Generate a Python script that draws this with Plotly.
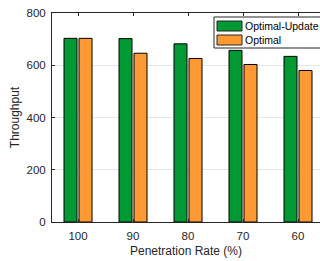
import plotly.graph_objects as go

categories = ["100", "90", "80", "70", "60"]
optimal_update = [703, 702, 682, 657, 634]
optimal = [703, 646, 626, 603, 580]
y_ticks = [0, 200, 400, 600, 800]

green = "#009933"
orange = "#FF9933"
axis_col = "#262626"
font = "Liberation Sans, Arial, sans-serif"

fig = go.Figure()
fig.add_trace(go.Bar(x=categories, y=optimal_update, name="Optimal-Update",
                     marker=dict(color=green, line=dict(color="black", width=1))))
fig.add_trace(go.Bar(x=categories, y=optimal, name="Optimal",
                     marker=dict(color=orange, line=dict(color="black", width=1))))

fig.update_layout(
    width=320, height=261,
    margin=dict(l=52, r=0, t=13, b=39),
    plot_bgcolor="white", paper_bgcolor="white",
    barmode="group", bargap=0.4545, bargroupgap=0.133,
    showlegend=False,
    font=dict(family=font, size=11, color=axis_col),
)
fig.update_xaxes(
    type="category", range=[-0.473, 4.4],
    showline=True, linecolor=axis_col, linewidth=1, mirror="ticks",
    ticks="inside", ticklen=3, tickcolor=axis_col,
    showgrid=False, tickfont=dict(size=11.5), ticklabelstandoff=3,
    title=dict(text="Penetration Rate (%)", font=dict(size=12), standoff=5),
)
fig.update_yaxes(
    range=[0, 800], tickvals=y_ticks,
    showline=True, linecolor=axis_col, linewidth=1,
    ticks="inside", ticklen=3, tickcolor=axis_col,
    showgrid=True, gridcolor="#e6e6e6", zeroline=False,
    tickfont=dict(size=11.5), ticklabelstandoff=3,
    title=dict(text="Throughput", font=dict(size=12), standoff=4),
)

# custom legend (MATLAB-style wide swatches)
shapes = [
    dict(type="rect", xref="paper", yref="paper",
         x0=(214 - 52) / 268.0, x1=1.05, y0=(222 - 48) / 209.0, y1=(222 - 17) / 209.0,
         line=dict(color=axis_col, width=1), fillcolor="white", layer="above"),
]
entries = [("Optimal-Update", green, 26), ("Optimal", orange, 40)]
annotations = []
for name, col, yc in entries:
    shapes.append(dict(type="rect", xref="paper", yref="paper",
                       x0=(217 - 52) / 268.0, x1=(242 - 52) / 268.0,
                       y0=(222 - (yc + 5)) / 209.0, y1=(222 - (yc - 5)) / 209.0,
                       line=dict(color=axis_col, width=1), fillcolor=col, layer="above"))
    annotations.append(dict(xref="paper", yref="paper", x=(243 - 52) / 268.0,
                            y=(222 - yc) / 209.0, text=name, showarrow=False,
                            xanchor="left", yanchor="middle",
                            font=dict(size=10.5, color="black", family=font)))
fig.update_layout(shapes=shapes, annotations=annotations)

fig.write_html("out.html", config={"displayModeBar": False},
               post_script="document.body.style.margin='0px';document.body.style.overflow='hidden';")
